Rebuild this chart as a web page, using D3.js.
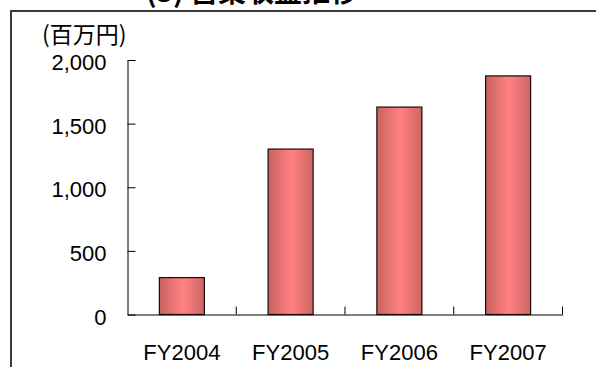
<!DOCTYPE html>
<html>
<head>
<meta charset="utf-8">
<script src="https://cdn.jsdelivr.net/npm/d3@7"></script>
<style>
  html, body { margin: 0; padding: 0; background: #fff; }
  svg { display: block; }
</style>
</head>
<body>
<svg id="chart" width="596" height="367"></svg>
<script>
// Operating revenue by fiscal year (millions of yen)
const categories = ["FY2004", "FY2005", "FY2006", "FY2007"];
const revenue = [290, 1300, 1630, 1875];
const yTicks = [0, 500, 1000, 1500, 2000];
const titleText = "(3) 営業収益推移";
const unitText = "(百万円)";

const svg = d3.select("#chart");
const W = 596, H = 367;
const plot = { left: 127.5, right: 562.5, top: 60, bottom: 314.5 };

const x = d3.scaleBand().domain(categories).range([plot.left, plot.right]).padding(0);
const y = d3.scaleLinear().domain([0, 2000]).range([plot.bottom, plot.top]);
const barFrac = 0.414;

// bar fill: darker edges, bright centre
const defs = svg.append("defs");
const grad = defs.append("linearGradient").attr("id", "barGrad")
  .attr("x1", "0%").attr("x2", "100%").attr("y1", "0%").attr("y2", "0%");
[[0, "#c86262"], [0.5, "#ff8080"], [0.58, "#fc7e7e"], [1, "#cc6565"]].forEach(([o, c]) =>
  grad.append("stop").attr("offset", o).attr("stop-color", c));

// outer frame (only left and top edges fall inside the view)
svg.append("path")
  .attr("d", `M11,${H + 5} L11,11 L${W + 5},11`)
  .attr("fill", "none").attr("stroke", "#3c3c3c").attr("stroke-width", 2);

// title, mostly above the visible area
svg.append("text")
  .attr("x", 252).attr("y", 2)
  .attr("text-anchor", "middle")
  .attr("font-family", "'Noto Sans CJK JP', sans-serif")
  .attr("font-weight", "bold").attr("font-size", 28)
  .attr("fill", "#000")
  .text(titleText);

// unit label
svg.append("text")
  .attr("x", 42).attr("y", 43)
  .attr("font-family", "'Noto Sans CJK JP', sans-serif")
  .attr("font-size", 23)
  .attr("fill", "#000")
  .text(unitText);

// bars
const bw = x.bandwidth() * barFrac;
svg.append("g").selectAll("rect")
  .data(categories.map((c, i) => ({ c, v: revenue[i] })))
  .join("rect")
  .attr("x", d => x(d.c) + (x.bandwidth() - bw) / 2)
  .attr("width", bw)
  .attr("y", d => y(d.v))
  .attr("height", d => y(0) - y(d.v))
  .attr("fill", "url(#barGrad)")
  .attr("stroke", "#1a0a0a").attr("stroke-width", 1.2);

// y axis, ticks pointing inward
const yAxis = svg.append("g")
  .attr("transform", `translate(${plot.left},0)`)
  .call(d3.axisLeft(y).tickValues(yTicks).tickFormat(d3.format(",")).tickSizeInner(-8).tickSizeOuter(0));
yAxis.select(".domain").attr("stroke", "#000");
yAxis.selectAll(".tick line").attr("stroke", "#000");
yAxis.selectAll(".tick text")
  .attr("x", -21).attr("dy", "0.44em")
  .attr("font-family", "'Liberation Sans', Arial, sans-serif")
  .attr("font-size", 22).attr("fill", "#000");

// x axis: labels at band centres, tick marks at band boundaries
const xAxis = svg.append("g")
  .attr("transform", `translate(0,${plot.bottom})`)
  .call(d3.axisBottom(x).tickSize(0));
xAxis.select(".domain").attr("stroke", "#000");
xAxis.selectAll(".tick text")
  .attr("y", 45).attr("dy", 0)
  .attr("font-family", "'Liberation Sans', Arial, sans-serif")
  .attr("font-size", 22).attr("fill", "#000");
xAxis.selectAll("line.sep")
  .data(categories)
  .join("line").attr("class", "sep")
  .attr("x1", d => x(d) + x.bandwidth()).attr("x2", d => x(d) + x.bandwidth())
  .attr("y1", 0).attr("y2", -8)
  .attr("stroke", "#000");
</script>
</body>
</html>
